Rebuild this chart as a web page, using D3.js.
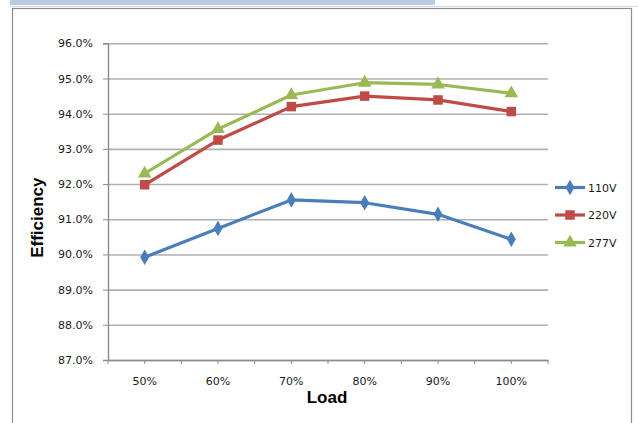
<!DOCTYPE html>
<html>
<head>
<meta charset="utf-8">
<script src="https://cdn.jsdelivr.net/npm/d3@7"></script>
<style>
  body { margin: 0; background: #fff; }
  svg { display: block; }
  .tick text { font-family: "DejaVu Sans", sans-serif; font-size: 11px; fill: #1a1a1a; }
</style>
</head>
<body>
<script>
// chart values
var loads = ["50%", "60%", "70%", "80%", "90%", "100%"];
var yTicks = [0.87, 0.88, 0.89, 0.90, 0.91, 0.92, 0.93, 0.94, 0.95, 0.96];
var seriesNames = ["110V", "220V", "277V"];
var eff110 = [0.8992, 0.9074, 0.9155, 0.9147, 0.9114, 0.9043];
var eff220 = [0.9198, 0.9325, 0.9420, 0.9450, 0.9439, 0.9406];
var eff277 = [0.9230, 0.9356, 0.9453, 0.9488, 0.9483, 0.9458];

var colors = ["#4a7ebb", "#be4b48", "#98b954"];
var symbols = [d3.symbolDiamond, d3.symbolSquare, d3.symbolTriangle];
var symSizes = [70, 90, 80];

var W = 638, H = 423;
var plotLeft = 108, plotRight = 548, plotTop = 43.3, plotBottom = 360;

var svg = d3.select("body").append("svg")
  .attr("width", W)
  .attr("height", H);

// spreadsheet bits around the chart
svg.append("rect").attr("x", 10).attr("y", 0).attr("width", 425).attr("height", 5).attr("fill", "#b8cce4");
svg.append("line").attr("x1", 10).attr("x2", W).attr("y1", 6.5).attr("y2", 6.5).attr("stroke", "#d4dbe8");
svg.append("rect").attr("x", 12.5).attr("y", 8.5).attr("width", 619).attr("height", 430)
  .attr("fill", "#fff").attr("stroke", "#8c8c8c").attr("stroke-width", 1.2);

var x = d3.scaleBand().domain(loads).range([plotLeft, plotRight]);
var y = d3.scaleLinear().domain([0.87, 0.96]).range([plotBottom, plotTop]);

// gridlines
svg.append("g")
  .attr("transform", "translate(" + plotLeft + ",0)")
  .call(d3.axisLeft(y).tickValues(yTicks).tickSize(-(plotRight - plotLeft)).tickFormat(""))
  .call(function(g) {
    g.select(".domain").remove();
    g.selectAll("line").attr("stroke", "#b0b0b0").attr("stroke-width", 1.6);
  });

// y axis
svg.append("g")
  .attr("transform", "translate(" + plotLeft + ",0)")
  .call(d3.axisLeft(y).tickValues(yTicks).tickSize(5).tickPadding(10).tickFormat(d3.format(".1%")))
  .call(function(g) {
    g.select(".domain").attr("stroke", "#8c8c8c").attr("stroke-width", 1.4);
    g.selectAll("line").attr("stroke", "#8c8c8c");
  });

// x axis
var halfTicks = [];
loads.forEach(function(d) { halfTicks.push(x(d)); halfTicks.push(x(d) + x.bandwidth() / 2); });
halfTicks.push(plotRight);

var xg = svg.append("g")
  .attr("transform", "translate(0," + plotBottom + ")")
  .call(d3.axisBottom(x).tickSize(0).tickPadding(17))
  .call(function(g) {
    g.select(".domain").attr("stroke", "#8c8c8c").attr("stroke-width", 1.4);
  });
xg.selectAll(".minor").data(halfTicks).enter().append("line")
  .attr("x1", function(d) { return d; })
  .attr("x2", function(d) { return d; })
  .attr("y1", 0).attr("y2", 4)
  .attr("stroke", "#8c8c8c");

// axis titles
svg.append("text")
  .attr("x", (plotLeft + plotRight) / 2 - 1)
  .attr("y", 403)
  .attr("text-anchor", "middle")
  .attr("font-family", "Liberation Sans, Arial, sans-serif")
  .attr("font-weight", "bold")
  .attr("font-size", 17)
  .text("Load");

svg.append("text")
  .attr("transform", "translate(43," + ((plotTop + plotBottom) / 2 + 16) + ") rotate(-90)")
  .attr("text-anchor", "middle")
  .attr("font-family", "Liberation Sans, Arial, sans-serif")
  .attr("font-weight", "bold")
  .attr("font-size", 17)
  .text("Efficiency");

// series
var allSeries = [eff110, eff220, eff277];
var line = d3.line()
  .x(function(d, i) { return x(loads[i]) + x.bandwidth() / 2; })
  .y(function(d) { return y(d); });

allSeries.forEach(function(vals, s) {
  svg.append("path")
    .datum(vals)
    .attr("d", line)
    .attr("fill", "none")
    .attr("stroke", colors[s])
    .attr("stroke-width", 3.2)
    .attr("stroke-linejoin", "round");

  svg.selectAll(".m" + s).data(vals).enter().append("path")
    .attr("transform", function(d, i) {
      return "translate(" + (x(loads[i]) + x.bandwidth() / 2) + "," + y(d) + ")";
    })
    .attr("d", d3.symbol().type(symbols[s]).size(symSizes[s]))
    .attr("fill", colors[s]);
});

// legend
var leg = svg.append("g").attr("transform", "translate(555,187.5)");
seriesNames.forEach(function(name, s) {
  var g = leg.append("g").attr("transform", "translate(0," + s * 27.5 + ")");
  g.append("line").attr("x1", 0).attr("x2", 30).attr("y1", 0).attr("y2", 0)
    .attr("stroke", colors[s]).attr("stroke-width", 3.2);
  g.append("path").attr("transform", "translate(15,0)")
    .attr("d", d3.symbol().type(symbols[s]).size(symSizes[s]))
    .attr("fill", colors[s]);
  g.append("text").attr("x", 33).attr("y", 4)
    .attr("font-family", "DejaVu Sans, sans-serif")
    .attr("font-size", 11)
    .attr("fill", "#1a1a1a")
    .text(name);
});
</script>
</body>
</html>
